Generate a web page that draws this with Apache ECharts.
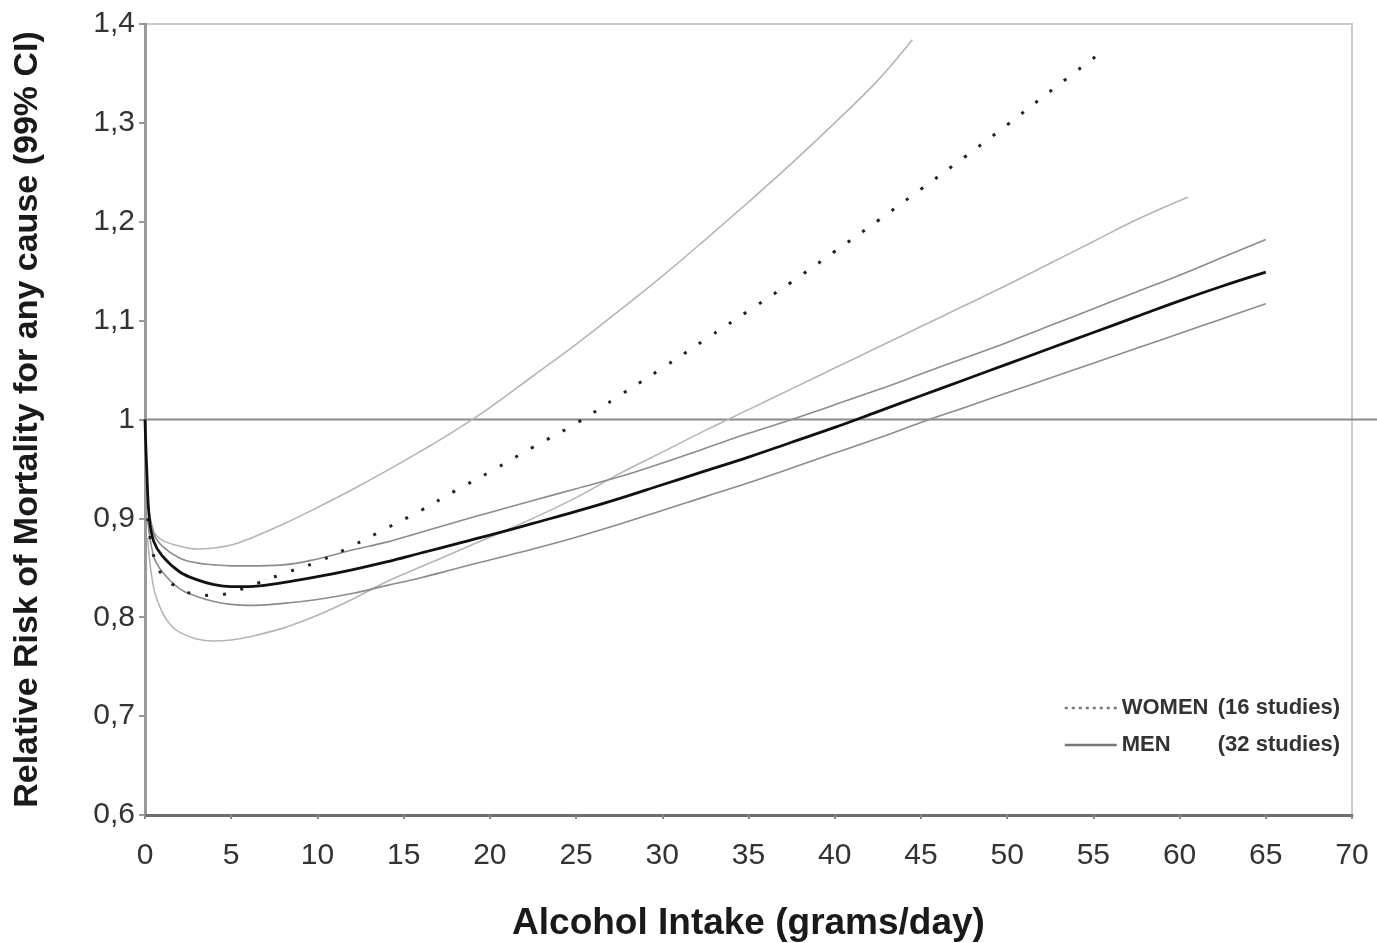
<!DOCTYPE html>
<html>
<head>
<meta charset="utf-8">
<script src="https://cdn.jsdelivr.net/npm/echarts@6/dist/echarts.min.js"></script>
<style>
html,body{margin:0;padding:0;background:#fff;}
#chart{width:1377px;height:943px;}
</style>
</head>
<body>
<div id="chart"></div>
<script>
// ---- Data ----
const xTicks = [0, 5, 10, 15, 20, 25, 30, 35, 40, 45, 50, 55, 60, 65, 70];
const yTicks = ['0,6', '0,7', '0,8', '0,9', '1', '1,1', '1,2', '1,3', '1,4'];

// WOMEN (16 studies) – point estimate and 99% CI
const womenX   = [0.15, 0.5, 1, 2, 3, 4, 5, 6, 8, 10, 12, 14, 16, 18, 20, 22.5, 25, 27.5, 30, 32.5, 35, 37.5, 40, 42.5, 45, 47.5, 50, 52.5, 55.5];
const womenRR  = [0.900, 0.862, 0.843, 0.829, 0.823, 0.822, 0.825, 0.831, 0.844, 0.856, 0.872, 0.890, 0.908, 0.928, 0.947, 0.972, 0.996, 1.024, 1.052, 1.081, 1.110, 1.139, 1.170, 1.201, 1.233, 1.265, 1.298, 1.332, 1.372];

const womenHiX  = [0.15, 0.5, 1, 2, 3, 4, 5, 6, 8, 10, 12, 14, 16, 18, 20, 22.5, 25, 27.5, 30, 32.5, 35, 37.5, 40, 42.5, 44.5];
const womenHi   = [0.920, 0.887, 0.878, 0.872, 0.869, 0.870, 0.873, 0.879, 0.894, 0.911, 0.929, 0.948, 0.968, 0.989, 1.012, 1.044, 1.076, 1.110, 1.145, 1.182, 1.220, 1.259, 1.300, 1.343, 1.384];

const womenLoX  = [0.15, 0.5, 1, 1.5, 2, 3, 4, 5, 6, 8, 10, 12, 14, 16, 18, 20, 22.5, 25, 27.5, 30, 32.5, 35, 37.5, 40, 42.5, 45, 47.5, 50, 52.5, 55, 57.5, 60.5];
const womenLo   = [0.880, 0.830, 0.805, 0.792, 0.785, 0.778, 0.776, 0.777, 0.780, 0.789, 0.802, 0.818, 0.836, 0.851, 0.866, 0.881, 0.900, 0.921, 0.945, 0.967, 0.989, 1.010, 1.031, 1.052, 1.073, 1.094, 1.115, 1.136, 1.158, 1.180, 1.202, 1.225];

// MEN (32 studies) – point estimate and 99% CI
const menX   = [0, 0.1, 0.25, 0.5, 1, 2, 3, 4, 5, 6, 8, 10, 12, 14, 16, 18, 20, 22.5, 25, 27.5, 30, 32.5, 35, 37.5, 40, 42.5, 45, 47.5, 50, 52.5, 55, 57.5, 60, 62.5, 65];
const menRR  = [1.000, 0.950, 0.900, 0.877, 0.862, 0.846, 0.838, 0.833, 0.831, 0.831, 0.835, 0.841, 0.848, 0.856, 0.865, 0.874, 0.883, 0.895, 0.907, 0.920, 0.934, 0.948, 0.962, 0.977, 0.992, 1.008, 1.024, 1.040, 1.056, 1.072, 1.088, 1.104, 1.120, 1.135, 1.149];

const menCIX = [0.15, 0.5, 1, 2, 3, 4, 5, 6, 8, 10, 12, 14, 16, 18, 20, 22.5, 25, 27.5, 30, 32.5, 35, 37.5, 40, 42.5, 45, 47.5, 50, 52.5, 55, 57.5, 60, 62.5, 65];
const menHi  = [0.920, 0.885, 0.872, 0.860, 0.855, 0.853, 0.852, 0.852, 0.853, 0.859, 0.868, 0.876, 0.886, 0.896, 0.906, 0.918, 0.930, 0.942, 0.956, 0.971, 0.986, 1.000, 1.015, 1.030, 1.046, 1.062, 1.078, 1.095, 1.112, 1.129, 1.146, 1.164, 1.182];
const menLo  = [0.900, 0.862, 0.846, 0.829, 0.821, 0.816, 0.813, 0.812, 0.814, 0.818, 0.824, 0.832, 0.840, 0.849, 0.858, 0.869, 0.881, 0.894, 0.908, 0.922, 0.936, 0.951, 0.966, 0.981, 0.997, 1.012, 1.027, 1.042, 1.057, 1.072, 1.087, 1.102, 1.117];

// reference line RR = 1 (runs on past the right edge of the plot frame)
const refLineX = [0, 71.45];
const refLineY = [1, 1];

// ---- helpers ----
const pairs = (xs, ys) => xs.map((x, i) => [x, ys[i]]);
const FONT = '"Liberation Sans", Arial, sans-serif';
const X_MAX = 70;
const GRID_LEFT = 145, GRID_RIGHT = 25, GRID_TOP = 24, GRID_BOTTOM = 128;

const chart = echarts.init(document.getElementById('chart'), null, {renderer: 'canvas'});

function ciSeries(name, xs, ys, color) {
  return {
    name: name, type: 'line', data: pairs(xs, ys), color: color,
    showSymbol: false, symbol: 'none', smooth: 0.4,
    lineStyle: {color: color, width: 1.6}, z: 2, silent: true
  };
}

const hiddenItem = {color: 'rgba(0,0,0,0)', borderColor: 'rgba(0,0,0,0)', borderWidth: 0};

const option = {
  backgroundColor: '#ffffff',
  animation: false,
  grid: [
    {left: GRID_LEFT, right: GRID_RIGHT, top: GRID_TOP, bottom: GRID_BOTTOM, outerBoundsMode: 'none',
     show: true, borderColor: '#cccccc', borderWidth: 2, backgroundColor: 'transparent'},
    // same vertical scale, extends to the right edge: carries only the RR = 1 reference line
    {left: GRID_LEFT, right: 0, top: GRID_TOP, bottom: GRID_BOTTOM, outerBoundsMode: 'none', show: false}
  ],
  xAxis: [{
    type: 'value', min: 0, max: X_MAX, interval: 5, gridIndex: 0,
    name: 'Alcohol Intake (grams/day)', nameLocation: 'middle', nameGap: 90,
    nameTextStyle: {fontFamily: FONT, fontSize: 37, fontWeight: 'bold', color: '#1a1a1a'},
    axisLine: {show: true, lineStyle: {color: '#6e6e6e', width: 3}},
    axisTick: {show: true, length: 4, lineStyle: {color: '#888', width: 2}},
    axisLabel: {fontFamily: FONT, fontSize: 30, color: '#333', margin: 26,
      formatter: v => xTicks.includes(v) ? String(v) : ''},
    splitLine: {show: false}
  }, {
    type: 'value', min: 0, max: refLineX[1], gridIndex: 1, show: false
  }],
  yAxis: [{
    type: 'value', min: 0.6, max: 1.4, interval: 0.1, gridIndex: 0,
    name: 'Relative Risk of Mortality for any cause (99% CI)', nameLocation: 'middle', nameGap: 100, nameRotate: 90,
    nameTextStyle: {fontFamily: FONT, fontSize: 34, fontWeight: 'bold', color: '#1a1a1a'},
    axisLine: {show: true, lineStyle: {color: '#9a9a9a', width: 3}},
    axisTick: {show: true, length: 6, lineStyle: {color: '#999', width: 2}},
    axisLabel: {fontFamily: FONT, fontSize: 30, color: '#333', margin: 10,
      formatter: v => yTicks[Math.round((v - 0.6) * 10)]},
    splitLine: {show: false}
  }, {
    type: 'value', min: 0.6, max: 1.4, gridIndex: 1, show: false
  }],
  legend: {
    show: true,
    orient: 'vertical', right: 32, top: 692, itemWidth: 52, itemHeight: 14, itemGap: 15,
    data: [
      {name: 'WOMEN', lineStyle: {color: '#777', width: 2.5, type: [3, 4]}, itemStyle: hiddenItem},
      {name: 'MEN', lineStyle: {color: '#777', width: 2.5, type: 'solid'}, itemStyle: hiddenItem}
    ],
    formatter: function (name) {
      return name === 'WOMEN' ? '{a|WOMEN}{b|(16 studies)}' : '{a|MEN}{b|(32 studies)}';
    },
    textStyle: {
      fontFamily: FONT, fontSize: 22, fontWeight: 'bold', color: '#333',
      rich: {
        a: {fontFamily: FONT, fontSize: 22, fontWeight: 'bold', color: '#333', width: 96},
        b: {fontFamily: FONT, fontSize: 22, fontWeight: 'bold', color: '#333'}
      }
    }
  },
  series: [
    {
      name: 'RR = 1', type: 'line', data: pairs(refLineX, refLineY), xAxisIndex: 1, yAxisIndex: 1,
      showSymbol: false, symbol: 'none', silent: true, color: '#8a8a8a',
      lineStyle: {color: '#8a8a8a', width: 2}, z: 1
    },
    ciSeries('WOMEN upper', womenHiX, womenHi, '#b5b5b5'),
    ciSeries('WOMEN lower', womenLoX, womenLo, '#b5b5b5'),
    ciSeries('MEN upper', menCIX, menHi, '#8c8c8c'),
    ciSeries('MEN lower', menCIX, menLo, '#8c8c8c'),
    {
      name: 'WOMEN', type: 'line', data: pairs(womenX, womenRR), color: '#222',
      showSymbol: false, symbol: 'none', smooth: 0.4,
      lineStyle: {color: '#222', width: 3, type: [3, 15], cap: 'butt'}, z: 3
    },
    {
      name: 'MEN', type: 'line', data: pairs(menX, menRR), color: '#111',
      showSymbol: false, symbol: 'none', smooth: 0.4,
      lineStyle: {color: '#111', width: 2.8}, z: 4
    }
  ]
};
chart.setOption(option);
</script>
</body>
</html>
